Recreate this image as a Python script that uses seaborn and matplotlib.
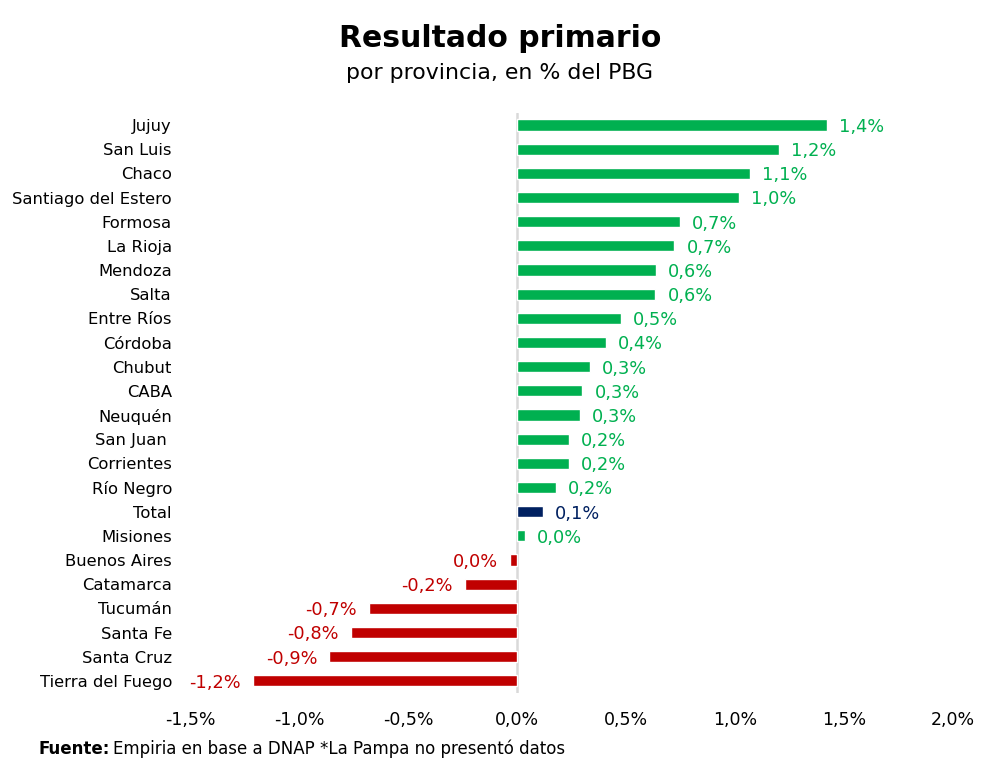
import numpy as np
import pandas as pd
import matplotlib
matplotlib.use('Agg')
import matplotlib.pyplot as plt
import seaborn as sns

# data (% of PBG)
provinces = ['Jujuy', 'San Luis', 'Chaco', 'Santiago del Estero', 'Formosa',
             'La Rioja', 'Mendoza', 'Salta', 'Entre Ríos', 'Córdoba', 'Chubut',
             'CABA', 'Neuquén', 'San Juan ', 'Corrientes', 'Río Negro', 'Total',
             'Misiones', 'Buenos Aires', 'Catamarca', 'Tucumán', 'Santa Fe',
             'Santa Cruz', 'Tierra del Fuego']
values = [1.42, 1.20, 1.07, 1.02, 0.746, 0.722, 0.639, 0.635, 0.477, 0.41,
          0.335, 0.30, 0.29, 0.237, 0.237, 0.18, 0.119, 0.037, -0.034, -0.24,
          -0.68, -0.763, -0.861, -1.211]
xticks = [-1.5, -1.0, -0.5, 0.0, 0.5, 1.0, 1.5, 2.0]

GREEN = '#00B050'
RED = '#C00000'
NAVY = '#002060'


def bar_color(name, v):
    if name == 'Total':
        return NAVY
    return GREEN if v >= 0 else RED


colors = [bar_color(p, v) for p, v in zip(provinces, values)]
df = pd.DataFrame({'provincia': provinces, 'valor': values})

sns.set_style('white')
plt.rcParams['font.family'] = ['DejaVu Sans']
plt.rcParams['text.color'] = 'black'
plt.rcParams['xtick.color'] = 'black'
plt.rcParams['ytick.color'] = 'black'

fig = plt.figure(figsize=(10, 7.81), dpi=100)
ax = fig.add_axes([0.19, 0.1127, 0.763, 0.7427])

sns.barplot(data=df, x='valor', y='provincia', hue='provincia',
            palette=colors, legend=False, orient='h', width=0.46,
            ax=ax, saturation=1)

ax.set_xlim(-1.5, 2.0)
ax.set_ylim(len(provinces) - 0.5, -0.5)
ax.axvline(0, color='#D9D9D9', lw=1.8, zorder=0)

for sp in ax.spines.values():
    sp.set_visible(False)

ax.set_xticks(xticks)
ax.set_xticklabels([f'{t:.1f}'.replace('.', ',') + '%' for t in xticks], fontsize=12.5)
ax.tick_params(axis='x', length=0, pad=13)
ax.tick_params(axis='y', length=0, pad=13, labelsize=11.8)
ax.set_xlabel('')
ax.set_ylabel('')

for i, (v, c) in enumerate(zip(values, colors)):
    lab = f'{v:.1f}'.replace('-0.0', '0.0').replace('.', ',') + '%'
    off = 0.055
    if v >= 0:
        ax.text(v + off, i + 0.08, lab, ha='left', va='center', color=c, fontsize=12.8)
    else:
        ax.text(v - off, i + 0.08, lab, ha='right', va='center', color=c, fontsize=12.8)

fig.text(0.5, 0.951, 'Resultado primario', ha='center', va='center',
         fontsize=21.5, fontweight='bold')
fig.text(0.5, 0.906, 'por provincia, en % del PBG', ha='center', va='center',
         fontsize=15.8)

t1 = fig.text(0.038, 0.041, 'Fuente:', ha='left', va='center',
              fontsize=12, fontweight='bold')
fig.canvas.draw()
bb = t1.get_window_extent()
x2 = bb.x1 / fig.bbox.width + 0.004
fig.text(x2, 0.041, 'Empiria en base a DNAP *La Pampa no presentó datos',
         ha='left', va='center', fontsize=12)

fig.savefig('out.png', dpi=100)
